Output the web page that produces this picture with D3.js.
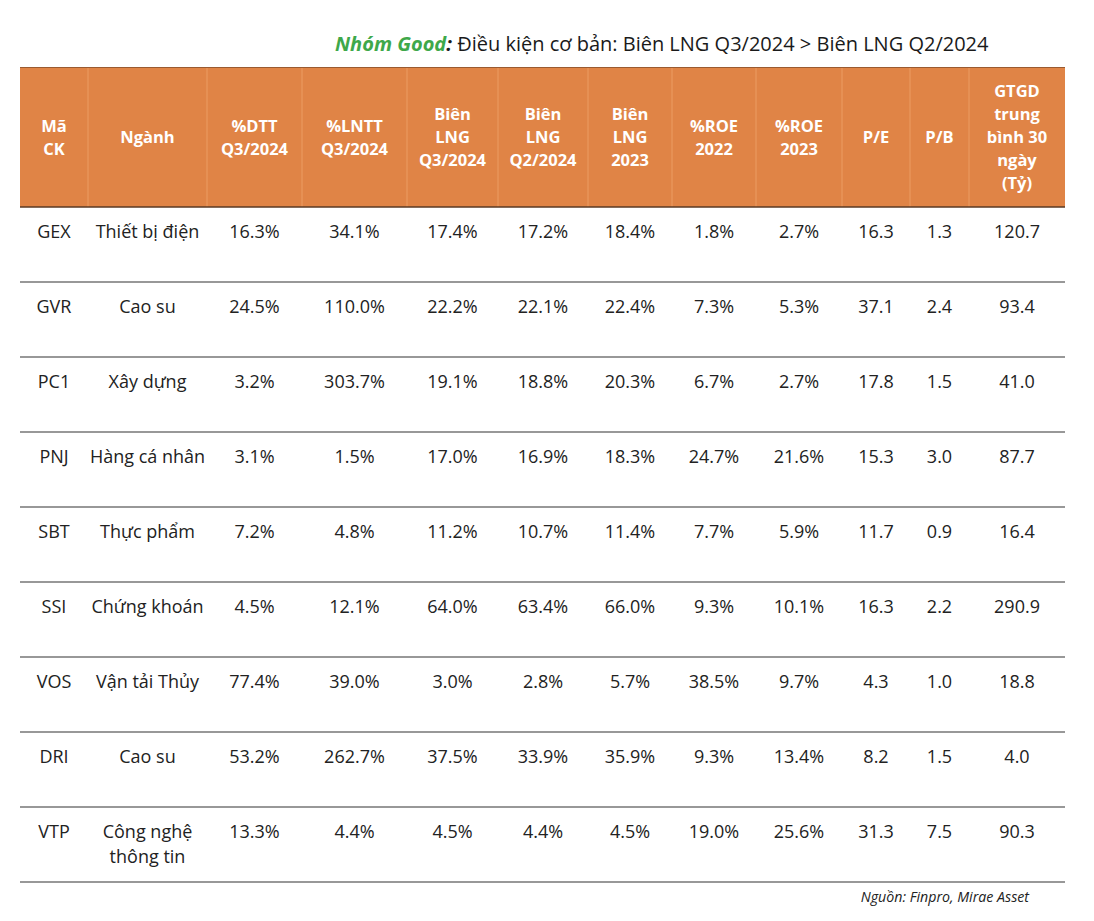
<!DOCTYPE html>
<html><head><meta charset="utf-8">
<script src="https://cdn.jsdelivr.net/npm/d3@7"></script>
<style>body{margin:0;background:#fff}svg{display:block}</style>
</head><body>
<svg id="c" width="1094" height="921"></svg>
<script>
const headers = [["Mã","CK"],["Ngành"],["%DTT","Q3/2024"],["%LNTT","Q3/2024"],["Biên","LNG","Q3/2024"],["Biên","LNG","Q2/2024"],["Biên","LNG","2023"],["%ROE","2022"],["%ROE","2023"],["P/E"],["P/B"],["GTGD","trung","bình 30","ngày","(Tỷ)"]];
const tickers = ["GEX","GVR","PC1","PNJ","SBT","SSI","VOS","DRI","VTP"];
const sectors = [["Thiết bị điện"],["Cao su"],["Xây dựng"],["Hàng cá nhân"],["Thực phẩm"],["Chứng khoán"],["Vận tải Thủy"],["Cao su"],["Công nghệ","thông tin"]];
const dtt = ["16.3%","24.5%","3.2%","3.1%","7.2%","4.5%","77.4%","53.2%","13.3%"];
const lntt = ["34.1%","110.0%","303.7%","1.5%","4.8%","12.1%","39.0%","262.7%","4.4%"];
const bienQ3 = ["17.4%","22.2%","19.1%","17.0%","11.2%","64.0%","3.0%","37.5%","4.5%"];
const bienQ2 = ["17.2%","22.1%","18.8%","16.9%","10.7%","63.4%","2.8%","33.9%","4.4%"];
const bien23 = ["18.4%","22.4%","20.3%","18.3%","11.4%","66.0%","5.7%","35.9%","4.5%"];
const roe22 = ["1.8%","7.3%","6.7%","24.7%","7.7%","9.3%","38.5%","9.3%","19.0%"];
const roe23 = ["2.7%","5.3%","2.7%","21.6%","5.9%","10.1%","9.7%","13.4%","25.6%"];
const pe = ["16.3","37.1","17.8","15.3","11.7","16.3","4.3","8.2","31.3"];
const pb = ["1.3","2.4","1.5","3.0","0.9","2.2","1.0","1.5","7.5"];
const gtgd = ["120.7","93.4","41.0","87.7","16.4","290.9","18.8","4.0","90.3"];

const colEdges = [20,88,207,302,407,498,588,672,756,842,910,969,1065];
const svg = d3.select("#c");
const font = "'Open Sans','Noto Sans',sans-serif";
const headTop = 67, headBot = 207, rowH = 75;

const x = d3.scaleOrdinal().domain(d3.range(12)).range(d3.range(12).map(i => (colEdges[i]+colEdges[i+1])/2));
const y = d3.scaleBand().domain(tickers).range([headBot, headBot + rowH*tickers.length]);

// title
const t = svg.append("text").attr("x", 335).attr("y", 51).attr("font-family", font).attr("font-size", 20).attr("fill", "#1a1a1a");
t.append("tspan").attr("fill", "#3ea84a").attr("font-weight", "bold").attr("font-style", "italic").text("Nhóm Good");
t.append("tspan").attr("font-weight", "bold").attr("font-style", "italic").attr("fill","#1a1a1a").text(":");
t.append("tspan").text(" Điều kiện cơ bản: Biên LNG Q3/2024 > Biên LNG Q2/2024");

// header
svg.append("rect").attr("x", colEdges[0]).attr("y", headTop).attr("width", colEdges[12]-colEdges[0]).attr("height", headBot-headTop).attr("fill", "#e08446");
svg.selectAll("line.hsep").data(colEdges.slice(1,12)).join("line")
  .attr("x1", d=>d).attr("x2", d=>d).attr("y1", headTop).attr("y2", headBot)
  .attr("stroke", "#eb9c62").attr("stroke-width", 1);
svg.append("line").attr("x1", colEdges[0]).attr("x2", colEdges[12]).attr("y1", headTop+0.5).attr("y2", headTop+0.5).attr("stroke","#9a5a30").attr("stroke-width",1);
svg.append("line").attr("x1", colEdges[0]).attr("x2", colEdges[12]).attr("y1", headBot).attr("y2", headBot).attr("stroke","#5a3a25").attr("stroke-width",1.5);

const lh = 23, hmid = (headTop+headBot)/2;
headers.forEach((lines, i) => {
  const g = svg.append("text").attr("text-anchor","middle").attr("font-family",font).attr("font-weight","bold").attr("font-size",16.5).attr("fill","#fff");
  lines.forEach((s, j) => {
    g.append("tspan").attr("x", x(i)).attr("y", hmid + (j - (lines.length-1)/2)*lh + 6).text(s);
  });
});

// rows
const cols = [tickers.map(d=>[d]), sectors, dtt, lntt, bienQ3, bienQ2, bien23, roe22, roe23, pe, pb, gtgd].map(a => a.map(v => Array.isArray(v)? v : [v]));
tickers.forEach((tk, r) => {
  const top = y(tk);
  cols.forEach((col, c) => {
    const g = svg.append("text").attr("text-anchor","middle").attr("font-family",font).attr("font-size",18).attr("fill","#222");
    col[r].forEach((s, j) => g.append("tspan").attr("x", x(c)).attr("y", top + 31 + j*25).text(s));
  });
  svg.append("line").attr("x1", colEdges[0]).attr("x2", colEdges[12]).attr("y1", top + rowH).attr("y2", top + rowH).attr("stroke","#333").attr("stroke-width",1.2);
});

svg.append("text").attr("x", 1029).attr("y", 902).attr("text-anchor","end").attr("font-family",font).attr("font-style","italic").attr("font-size",14.2).attr("fill","#222").text("Nguồn: Finpro, Mirae Asset");
</script>
</body></html>
